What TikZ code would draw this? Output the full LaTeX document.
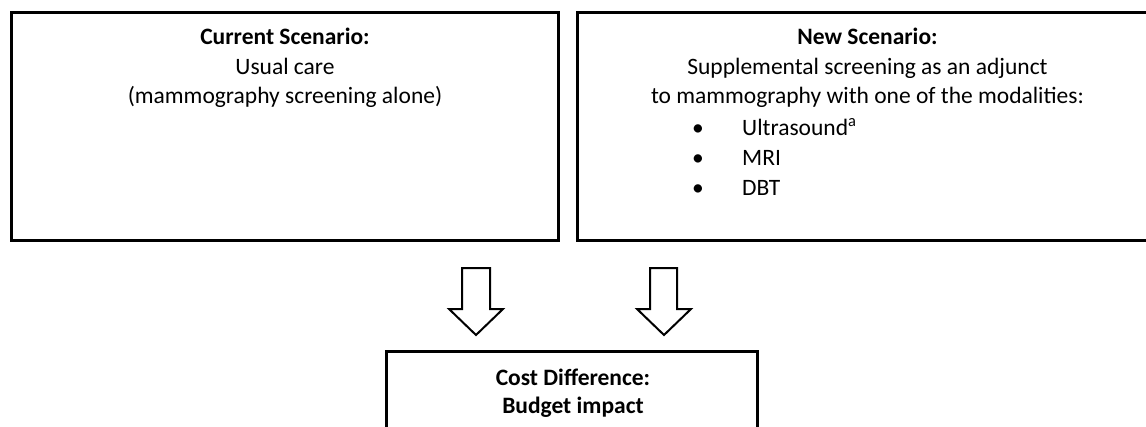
\documentclass[tikz,border=0pt]{standalone}
\usepackage{fontspec}
\setmainfont{Carlito}
\begin{document}
\begin{tikzpicture}[x=1pt,y=-1pt,
  box/.style={draw=black,line width=3pt},
  txt/.style={inner sep=0pt,font=\fontsize{23.5}{28}\selectfont,align=center,anchor=base},
  blockarrow/.style={draw=black,line width=2pt,fill=white,line join=miter}]
\useasboundingbox (0,0) rectangle (1146,426);
\begin{scope}
\clip (0,0) rectangle (1146,426);
\draw[box] (11,12) rectangle (558,240);
\draw[box] (577,12) rectangle (1160,240);
\draw[box] (386,351) rectangle (757,440);
\end{scope}
% left box text
\node[txt] (cur1) at (285,44) {\textbf{Current Scenario:}};
\node[txt] (cur2) at (285,74.5) {Usual care};
\node[txt] (cur3) at (285,103.5) {(mammography screening alone)};
% right box text
\node[txt] (new1) at (867.5,44) {\textbf{New Scenario:}};
\node[txt] (new2) at (867.5,74.5) {Supplemental screening as an adjunct};
\node[txt] (new3) at (867.5,103.5) {to mammography with one of the modalities:};
\foreach \y/\t/\n in {135.5/Ultrasound\textsuperscript{a}/b1,165.5/MRI/b2,195.5/DBT/b3}{
  \node[txt] (\n dot) at (698,\y) {•};
  \node[txt,anchor=base west] (\n) at (742,\y) {\t};
}
% bottom box text
\node[txt] (cost1) at (573,385) {\textbf{Cost Difference:}};
\node[txt] (cost2) at (573,413) {\textbf{Budget impact}};
% block arrows
\draw[blockarrow] (462,268) -- (490,268) -- (490,309) -- (503,309) -- (476,335) -- (449,309) -- (462,309) -- cycle;
\draw[blockarrow] (650,268) -- (677,268) -- (677,309) -- (691,309) -- (664,335) -- (637,309) -- (650,309) -- cycle;
\end{tikzpicture}
\end{document}
